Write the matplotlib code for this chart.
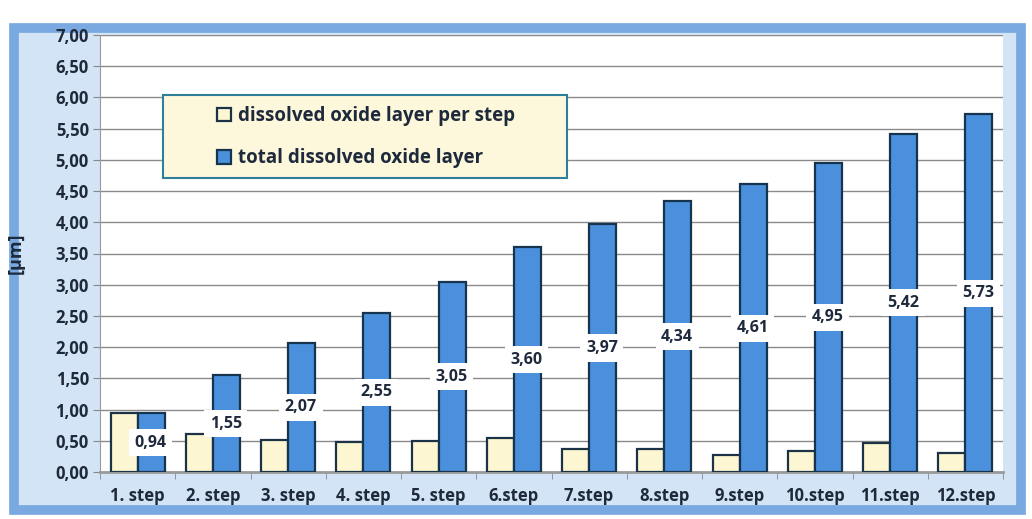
import matplotlib
matplotlib.use("Agg")
import matplotlib.pyplot as plt
from matplotlib.patches import FancyBboxPatch, Rectangle
import numpy as np

categories = ["1. step", "2. step", "3. step", "4. step", "5. step", "6.step",
              "7.step", "8.step", "9.step", "10.step", "11.step", "12.step"]
per_step = [0.94, 0.61, 0.52, 0.48, 0.50, 0.55, 0.37, 0.37, 0.27, 0.34, 0.47, 0.31]
total = [0.94, 1.55, 2.07, 2.55, 3.05, 3.60, 3.97, 4.34, 4.61, 4.95, 5.42, 5.73]
total_labels = ["0,94", "1,55", "2,07", "2,55", "3,05", "3,60", "3,97", "4,34",
                "4,61", "4,95", "5,42", "5,73"]
yticks = np.arange(0, 7.01, 0.5)
ytick_labels = [f"{v:.2f}".replace(".", ",") for v in yticks]

plt.rcParams['font.family'] = ['Open Sans', 'DejaVu Sans']

W, H = 1032, 519
fig = plt.figure(figsize=(W / 100, H / 100), dpi=100)
fig.patch.set_facecolor("white")

# outer frame
frame = FancyBboxPatch((14 / W, 1 - 510 / H), (1021 - 14) / W, (510 - 28) / H,
                       boxstyle="square,pad=0", transform=fig.transFigure,
                       facecolor="#d3e4f6", edgecolor="#79a9e0", linewidth=7,
                       zorder=-5)
fig.patches.append(frame)

ax = fig.add_axes([100 / W, 1 - 472 / H, (1003 - 100) / W, (472 - 35) / H])
ax.set_facecolor("white")
ax.set_zorder(1)

text_color = "#1e2a3c"
x = np.arange(len(categories))
bw = 0.36
ax.bar(x - bw / 2, per_step, bw, color="#fdf6d2", edgecolor="#1c3347",
       linewidth=1.6, zorder=3, label="dissolved oxide layer per step")
ax.bar(x + bw / 2, total, bw, color="#4a90dc", edgecolor="#17344f",
       linewidth=1.6, zorder=3, label="total dissolved oxide layer")

for xi, v, lab in zip(x, total, total_labels):
    ax.text(xi + 0.17, v / 2, lab, ha="center", va="center", fontsize=11.5,
            fontweight="bold", color=text_color, zorder=5,
            bbox=dict(boxstyle="square,pad=0.35", facecolor="white",
                      edgecolor="none"))

ax.set_ylim(0, 7)
ax.set_xlim(-0.5, len(categories) - 0.5)
ax.set_yticks(yticks)
ax.set_yticklabels(ytick_labels, fontsize=12, fontweight="bold", color=text_color)
ax.set_xticks(x)
ax.set_xticklabels(categories, fontsize=12, fontweight="bold", color=text_color)
ax.tick_params(axis="y", length=5, color="#888888", pad=3)
ax.tick_params(axis="x", length=0, pad=11)
ax.set_xticks(np.arange(-0.5, len(categories), 1), minor=True)
ax.tick_params(axis="x", which="minor", length=5, color="#888888")
ax.yaxis.grid(True, color="#8a8a8a", linewidth=1.0, zorder=1)
ax.set_axisbelow(True)
for s in ["top", "right"]:
    ax.spines[s].set_visible(False)
ax.spines["left"].set_color("#9a9a9a")
ax.spines["bottom"].set_color("#9a9a9a")
ax.spines["bottom"].set_linewidth(2)

ax.set_ylabel("[µm]", fontsize=13, fontweight="bold", color=text_color)
ax.yaxis.set_label_coords(-0.083, 0.5)

# legend box drawn manually for wider padding
bx0, bx1, by0, by1 = 163, 567, 95, 178
ax.add_patch(Rectangle(((bx0 - 100) / 903, (472 - by1) / 437),
                       (bx1 - bx0) / 903, (by1 - by0) / 437,
                       transform=ax.transAxes, facecolor="#fdf8dc",
                       edgecolor="#2e7f9a", linewidth=1.5, zorder=9))
leg = ax.legend(loc="upper left",
                bbox_to_anchor=((217 - 100) / 903, (472 - 106) / 437),
                fontsize=13.5, frameon=False, borderpad=0,
                labelspacing=1.2, handlelength=0.75, handleheight=0.75,
                handletextpad=0.35, borderaxespad=0)
for t in leg.get_texts():
    t.set_fontweight("bold")
    t.set_color(text_color)
leg.set_zorder(10)

fig.savefig("out.png", dpi=100)
